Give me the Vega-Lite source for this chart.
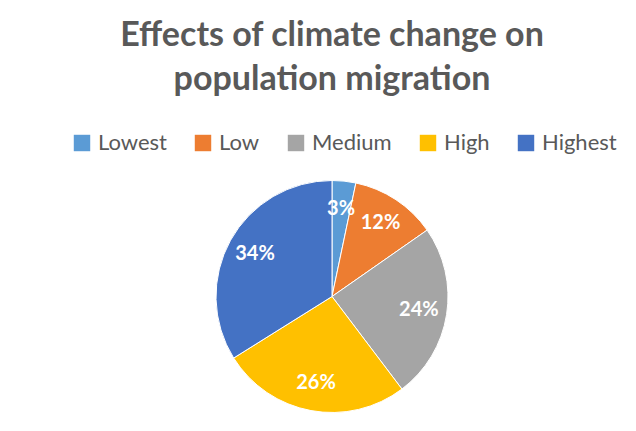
{
  "$schema": "https://vega.github.io/schema/vega-lite/v6.json",
  "width": 636,
  "height": 431,
  "autosize": {"type": "fit", "contains": "padding"},
  "padding": {"left": 47, "right": 19, "top": 19, "bottom": 14},
  "background": "white",
  "title": {
    "text": ["Effects of climate change on", "population migration"],
    "font": "Lato",
    "fontSize": 34,
    "fontWeight": "bold",
    "color": "#595959",
    "lineHeight": 44,
    "anchor": "middle",
    "offset": 35
  },
  "data": {
    "values": [
      {"category": "Lowest", "value": 3.3, "label": "3%", "order": 1},
      {"category": "Low", "value": 12.0, "label": "12%", "order": 2},
      {"category": "Medium", "value": 24.4, "label": "24%", "order": 3},
      {"category": "High", "value": 26.4, "label": "26%", "order": 4},
      {"category": "Highest", "value": 33.9, "label": "34%", "order": 5}
    ]
  },
  "encoding": {
    "theta": {"field": "value", "type": "quantitative", "stack": true},
    "order": {"field": "order", "type": "quantitative"},
    "color": {
      "field": "category",
      "type": "nominal",
      "scale": {
        "domain": ["Lowest", "Low", "Medium", "High", "Highest"],
        "range": ["#5B9BD5", "#ED7D31", "#A5A5A5", "#FFC000", "#4472C4"]
      },
      "legend": {
        "title": null,
        "orient": "top",
        "direction": "horizontal",
        "symbolType": "square",
        "symbolSize": 270,
        "symbolStrokeWidth": 0,
        "symbolOpacity": 1,
        "labelFont": "Lato",
        "labelFontSize": 22,
        "labelColor": "#595959",
        "columnPadding": 25,
        "symbolOffset": 0,
        "labelOffset": 5,
        "offset": 22
      }
    }
  },
  "layer": [
    {
      "mark": {"type": "arc", "outerRadius": 116, "stroke": "white", "strokeWidth": 1}
    },
    {
      "mark": {"type": "text", "radius": 88, "font": "Lato", "fontSize": 20, "fontWeight": "bold", "fill": "white"},
      "encoding": {
        "text": {"field": "label"},
        "color": {"value": "white"}
      }
    }
  ],
  "config": {
    "view": {"stroke": null},
    "legend": {"layout": {"top": {"anchor": "end"}}}
  }
}
